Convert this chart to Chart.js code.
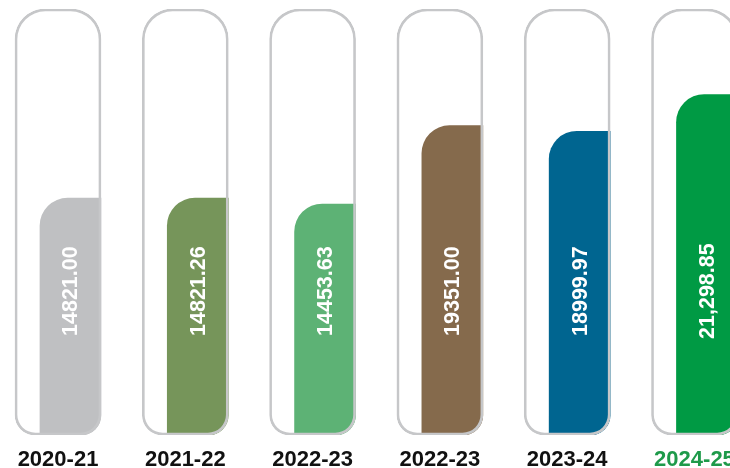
<!DOCTYPE html>
<html>
<head>
<meta charset="utf-8">
<script src="https://cdn.jsdelivr.net/npm/chart.js@4/dist/chart.umd.min.js"></script>
<style>
  html, body { margin: 0; padding: 0; background: #ffffff; overflow: hidden; }
  #wrap { width: 730px; height: 468px; position: relative; }
  #c { display: block; }
</style>
</head>
<body>
<div id="wrap"><canvas id="c"></canvas></div>
<script>
// ---- data ----
const categories = ['2020-21', '2021-22', '2022-23', '2022-23', '2023-24', '2024-25'];
const values = [14821.00, 14821.26, 14453.63, 19351.00, 18999.97, 21298.85];
const valueLabels = ['14821.00', '14821.26', '14453.63', '19351.00', '18999.97', '21,298.85'];
const barColors = ['#bfc0c2', '#76955a', '#5db275', '#856a4c', '#006590', '#009a44'];
const categoryColors = ['#111111', '#111111', '#111111', '#111111', '#111111', '#1e9a4a'];
const scaleMax = 26650;           // full height of the capsule outlines
const labelCenterValue = 9000;    // where the rotated value labels sit

const fillOffset = 0.098;         // fill bar sits at the right side of each capsule

const outlineData = categories.map((c, i) => ({ x: i, y: scaleMax }));
const fillData = values.map((v, i) => ({ x: i + fillOffset, y: v }));

const valueLabelPlugin = {
  id: 'valueLabels',
  afterDatasetsDraw(chart) {
    const meta = chart.getDatasetMeta(1);
    const yScale = chart.scales.y;
    const ctx = chart.ctx;
    ctx.save();
    ctx.fillStyle = '#ffffff';
    ctx.font = 'bold 21.5px "Liberation Sans", Arial, sans-serif';
    ctx.textAlign = 'center';
    ctx.textBaseline = 'middle';
    meta.data.forEach((el, i) => {
      ctx.save();
      ctx.translate(el.x, yScale.getPixelForValue(labelCenterValue));
      ctx.rotate(-Math.PI / 2);
      ctx.fillText(valueLabels[i], 0, 1);
      ctx.restore();
    });
    ctx.restore();
  }
};

new Chart(document.getElementById('c'), {
  type: 'bar',
  data: {
    datasets: [
      {
        label: 'outline',
        data: outlineData,
        backgroundColor: 'rgba(0,0,0,0)',
        borderColor: '#c6c7c9',
        borderWidth: 2,
        borderSkipped: false,
        borderRadius: { topLeft: 30, topRight: 30, bottomLeft: 20, bottomRight: 20 },
        barThickness: 86,
        grouped: false
      },
      {
        label: 'value',
        data: fillData,
        backgroundColor: barColors,
        borderWidth: 0,
        borderSkipped: false,
        borderRadius: { topLeft: 28, topRight: 0, bottomLeft: 0, bottomRight: 20 },
        barThickness: 61,
        grouped: false
      }
    ]
  },
  options: {
    responsive: true,
    maintainAspectRatio: false,
    animation: false,
    layout: { autoPadding: false, padding: { top: 9, left: 0, right: 0, bottom: 0 } },
    plugins: { legend: { display: false }, tooltip: { enabled: false } },
    scales: {
      x: {
        type: 'linear',
        offset: false,
        min: -0.4556,
        max: 5.279,
        grid: { display: false, drawTicks: false, offset: false },
        border: { display: false },
        afterBuildTicks(axis) { axis.ticks = categories.map((c, i) => ({ value: i })); },
        afterFit(axis) {
          axis.height = 33;
          axis.paddingLeft = 0;
          axis.paddingRight = 0;
        },
        ticks: {
          padding: 12,
          autoSkip: false,
          maxRotation: 0,
          callback: (v) => categories[Math.round(v)] ?? '',
          color: (ctx) => categoryColors[ctx.index],
          font: { family: '"Liberation Sans", Arial, sans-serif', size: 22, weight: 'bold' }
        }
      },
      y: {
        display: false,
        min: 0,
        max: scaleMax
      }
    }
  },
  plugins: [valueLabelPlugin]
});
</script>
</body>
</html>
